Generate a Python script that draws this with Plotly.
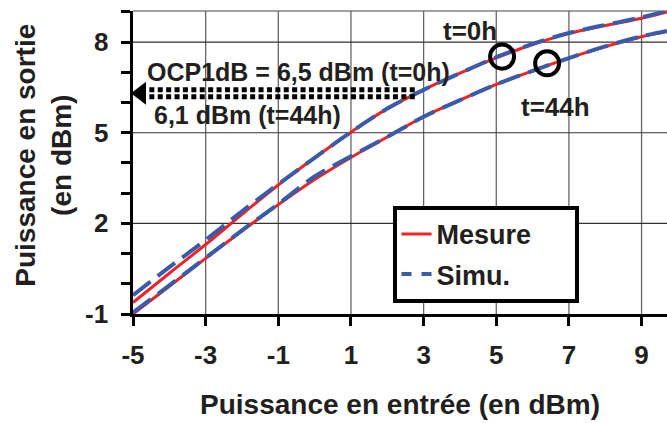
import plotly.graph_objects as go

# input power (dBm)
p_in = [-5, -4, -3, -2, -1, 0, 1, 2, 3, 4, 5, 6, 7, 8, 9, 9.7]

# output power (dBm)
mes_0h = [-0.62, 0.35, 1.30, 2.30, 3.27, 4.17, 5.02, 5.80, 6.42, 6.97, 7.48, 7.92, 8.29, 8.55, 8.79, 9.00]
sim_0h = [-0.38, 0.55, 1.45, 2.40, 3.30, 4.17, 5.02, 5.80, 6.42, 6.97, 7.50, 7.94, 8.30, 8.57, 8.82, 9.03]
mes_44h = [-1.00, -0.08, 0.84, 1.75, 2.62, 3.45, 4.18, 4.86, 5.53, 6.08, 6.60, 7.05, 7.47, 7.85, 8.18, 8.35]
sim_44h = [-0.95, -0.05, 0.86, 1.77, 2.64, 3.55, 4.22, 4.86, 5.53, 6.08, 6.60, 7.05, 7.47, 7.86, 8.19, 8.37]

# OCP1dB arrows
arrow_x = [-4.55, 2.77]
arrow_y = [6.42, 6.19]

xticks = [-5, -3, -1, 1, 3, 5, 7, 9]
yticks = [-1, 2, 5, 8]
xrange_ = [-5, 9.7]
yrange_ = [-1, 9.03]

RED = "#EE2326"
BLUE = "#3A5BA9"
INK = "#231F20"
FONT = "Liberation Sans, Arial, sans-serif"
PAD = "\u00a0" * 5

fig = go.Figure()

# grid drawn as plain line traces
gx, gy = [], []
for v in xticks[1:]:
    gx += [v, v, None]
    gy += [yrange_[0], yrange_[1], None]
fig.add_trace(go.Scatter(x=gx, y=gy, mode="lines", showlegend=False, hoverinfo="skip",
                         line=dict(color="#666", width=1.3)))
hx, hy = [], []
for v in yticks[1:]:
    hx += [xrange_[0], xrange_[1], None]
    hy += [v, v, None]
fig.add_trace(go.Scatter(x=hx, y=hy, mode="lines", showlegend=False, hoverinfo="skip",
                         line=dict(color="#333", width=1.2)))
fig.add_shape(type="line", xref="paper", yref="paper", x0=0, x1=1, y0=1, y1=1, layer="below",
              line=dict(color="#444", width=1.2))

fig.add_trace(go.Scatter(x=p_in, y=mes_0h, mode="lines", showlegend=False,
                         line=dict(color=RED, width=3, shape="spline")))
fig.add_trace(go.Scatter(x=p_in, y=mes_44h, mode="lines", showlegend=False,
                         line=dict(color=RED, width=3, shape="spline")))
fig.add_trace(go.Scatter(x=p_in, y=sim_0h, mode="lines", showlegend=False,
                         line=dict(color=BLUE, width=4, dash="22px,9px", shape="spline")))
fig.add_trace(go.Scatter(x=p_in, y=sim_44h, mode="lines", showlegend=False,
                         line=dict(color=BLUE, width=4, dash="22px,9px", shape="spline")))

# legend entries (short dashes like the original key)
fig.add_trace(go.Scatter(x=[None], y=[None], mode="lines", name="Mesure" + PAD, legendgroup="m",
                         line=dict(color=RED, width=3)))
fig.add_trace(go.Scatter(x=[None], y=[None], mode="lines", name="Simu." + PAD, legendgroup="s",
                         line=dict(color=BLUE, width=4, dash="10px,10px")))

# dotted arrows towards the y axis
for ya in arrow_y:
    fig.add_trace(go.Scatter(x=arrow_x, y=[ya, ya], mode="lines", showlegend=False, hoverinfo="skip",
                             line=dict(color="black", width=5, dash="5px,3.4px")))
fig.add_trace(go.Scatter(x=[-4.78], y=[sum(arrow_y) / 2], mode="markers", showlegend=False,
                         cliponaxis=False, hoverinfo="skip",
                         marker=dict(symbol="triangle-left", size=20, color="black")))

# circles around the compression points
for cx, cy in [(5.16, 7.52), (6.40, 7.30)]:
    fig.add_shape(type="circle", xref="x", yref="y", x0=cx - 0.33, x1=cx + 0.33,
                  y0=cy - 0.40, y1=cy + 0.40, line=dict(color="black", width=4))

ann_font = dict(family=FONT, size=25, color=INK, weight="bold")
fig.add_annotation(x=-4.67, y=7.02, text="OCP1dB = 6,5 dBm (t=0h)", showarrow=False,
                   xanchor="left", font=ann_font)
fig.add_annotation(x=-4.48, y=5.59, text="6,1 dBm (t=44h)", showarrow=False,
                   xanchor="left", font=ann_font)
fig.add_annotation(x=4.28, y=8.37, text="t=0h", showarrow=False,
                   font=dict(family=FONT, size=26, color=INK, weight="bold"))
fig.add_annotation(x=6.64, y=5.85, text="t=44h", showarrow=False,
                   font=dict(family=FONT, size=26, color=INK, weight="bold"))

tick_font = dict(family=FONT, size=26, color=INK, weight="bold")
title_font = dict(family=FONT, size=28, color=INK, weight="bold")

# y tick labels placed a bit further from the axis, as in the original
for v in yticks:
    fig.add_annotation(xref="paper", yref="y", x=-0.043, y=v, text=str(v), showarrow=False,
                       xanchor="right", yanchor="middle", font=tick_font)

# y axis title placed by hand (two lines, rotated)
fig.add_annotation(xref="paper", yref="paper", x=-0.167, y=0.525, textangle=-90,
                   xanchor="center", yanchor="middle",
                   text="Puissance en sortie<br>(en dBm)", showarrow=False, font=title_font)

fig.update_layout(
    width=667, height=423,
    margin=dict(l=133, r=0, t=11, b=109),
    paper_bgcolor="white", plot_bgcolor="white",
    font=dict(family=FONT, color=INK),
    showlegend=True,
    legend=dict(x=0.486, y=0.357, xanchor="left", yanchor="top",
                bgcolor="white", bordercolor="black", borderwidth=4,
                font=dict(family=FONT, size=27, color=INK, weight="bold"),
                tracegroupgap=2),
    xaxis=dict(range=xrange_, tickvals=xticks, ticktext=[str(v) for v in xticks],
               showgrid=False,
               showline=True, linecolor="black", linewidth=3,
               ticks="outside", ticklen=9, tickwidth=3, tickcolor="black",
               tickfont=tick_font, zeroline=False, automargin=False, ticklabelstandoff=7,
               title=dict(text="Puissance en entrée (en dBm)", font=title_font, standoff=26)),
    yaxis=dict(range=yrange_, tickvals=yticks, showticklabels=False,
               showgrid=False,
               showline=True, linecolor="black", linewidth=3,
               ticks="outside", ticklen=9, tickwidth=3, tickcolor="black",
               zeroline=False, automargin=False,
               minor=dict(tick0=-1, dtick=1, ticks="outside", ticklen=9, tickwidth=3,
                          tickcolor="black", showgrid=False)),
)

fig.write_html("out.html", config={"displayModeBar": False},
               post_script="document.body.style.margin='0';")
